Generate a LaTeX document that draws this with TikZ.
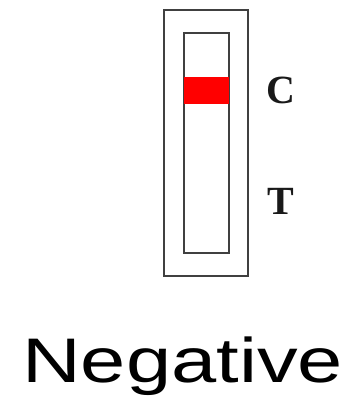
\documentclass[tikz,border=0pt]{standalone}
\usepackage{fontspec}
\setmainfont{Liberation Serif}
\newfontfamily\arialf{Liberation Sans}
\begin{document}
\begin{tikzpicture}[x=1pt,y=1pt,
  frame/.style={draw=black!75,line width=2pt},
  band/.style={fill=red,draw=none},
  lineletter/.style={font=\fontsize{40}{40}\selectfont\bfseries,text=black!90,inner sep=0pt,anchor=base west},
  caption/.style={font=\arialf\fontsize{63}{63}\selectfont,inner sep=0pt,anchor=base west}]
\useasboundingbox (0,0) rectangle (354,420);
\fill[white] (0,0) rectangle (354,420);
\node[frame,minimum width=84pt,minimum height=266pt,inner sep=0pt] (outer) at (206,276.5) {};
\node[frame,minimum width=45pt,minimum height=220pt,inner sep=0pt] (inner) at (206,277) {};
\node[band,minimum width=45pt,minimum height=27pt,inner sep=0pt] (cband) at (206,329.5) {};
\node[lineletter] (C) at (266,316) {C};
\node[lineletter] (T) at (267,205) {T};
\node[caption] (neg) at (22,37) {\scalebox{1.29}[1]{Negative}};
\end{tikzpicture}
\end{document}
